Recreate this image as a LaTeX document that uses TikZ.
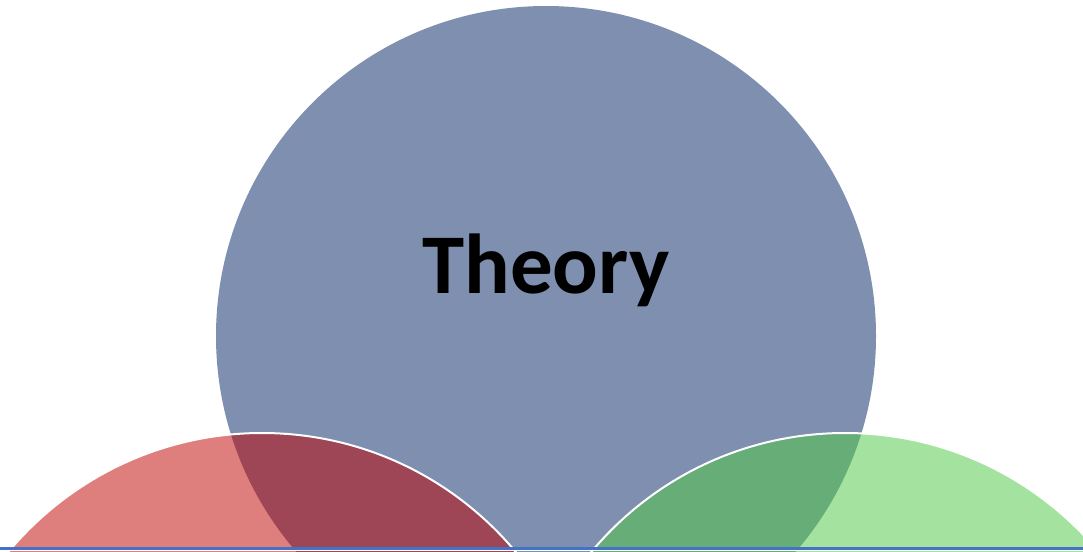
\documentclass[tikz,border=0pt]{standalone}
\usepackage{fontspec}
\setmainfont{Carlito}
\definecolor{theoryblue}{HTML}{7F8FB0}
\definecolor{lightred}{HTML}{DF7F7D}
\definecolor{darkred}{HTML}{9E4656}
\definecolor{lightgreen}{HTML}{A4E39F}
\definecolor{darkgreen}{HTML}{66AD78}
\definecolor{lineblue}{HTML}{4472C4}
\tikzset{
  rim/.style={draw=white, line width=2pt},
}
\begin{document}
\begin{tikzpicture}[x=1pt,y=-1pt]
\useasboundingbox (0,0) rectangle (1083,551);
\clip (0,0) rectangle (1083,551);
\fill[white] (0,0) rectangle (1083,551);
% big circle
\fill[theoryblue] (546,336) circle (330);
% red and green circles
\fill[lightred] (262,763) circle (330);
\fill[lightgreen] (845,763) circle (330);
% overlaps
\begin{scope}
  \clip (546,336) circle (330);
  \fill[darkred] (262,763) circle (330);
  \fill[darkgreen] (845,763) circle (330);
\end{scope}
% white rims
\draw[rim] (262,763) circle (330);
\draw[rim] (845,763) circle (330);
% text
\node[anchor=base, inner sep=0pt, font=\fontsize{85}{100}\selectfont\bfseries] (theory) at (546,293) {Theory};
% bottom line and white strip below
\fill[white] (0,549) rectangle (1083,551);
\coordinate (bl) at (0,548);
\coordinate (br) at (1083,548);
\draw[draw=lineblue, line width=3pt] (bl) -- (br);
\end{tikzpicture}
\end{document}
